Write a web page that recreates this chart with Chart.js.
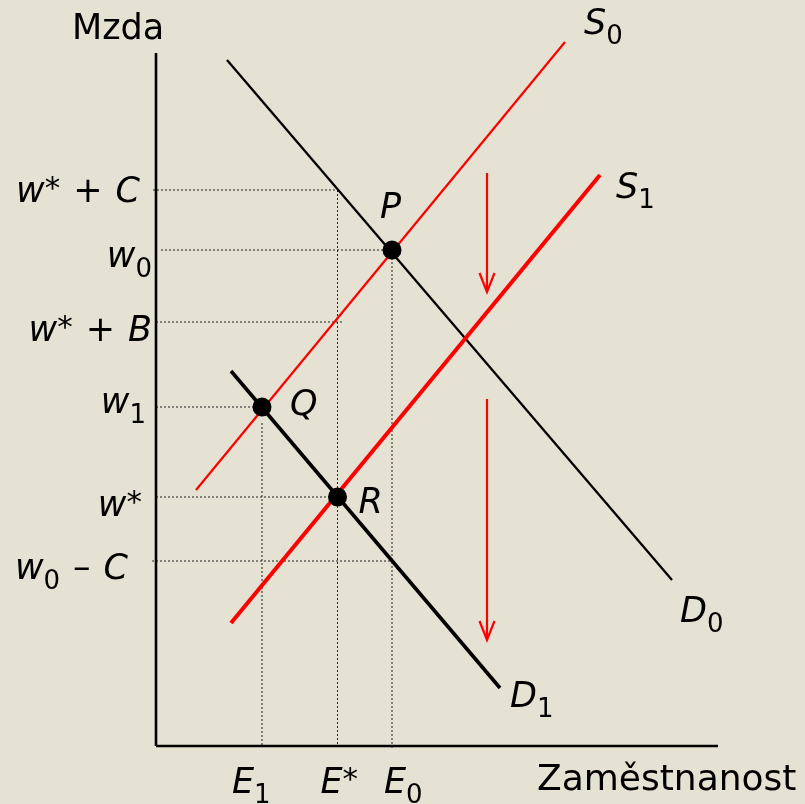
<!DOCTYPE html>
<html><head><meta charset="utf-8">
<script src="https://cdn.jsdelivr.net/npm/chart.js@4"></script>
<style>html,body{margin:0;padding:0;background:#E5E2D3;}canvas{display:block}</style>
</head><body>
<canvas id="c" width="805" height="804"></canvas>
<script>
// ---------- data (economic units) ----------
const xMax = 112.4;               // end of employment axis
const yMax = 138.6;               // end of wage axis
const D0_x = [14.2, 103.2];
const D0_y = [137.2, 33.2];
const S0_x = [8, 81.8];
const S0_y = [51.2, 140.8];
const S1_x = [15, 88.8];
const S1_y = [24.6, 114.2];
const D1_x = [15, 68.8];
const D1_y = [75, 11.6];
const pointNames = ['P', 'Q', 'R'];
const pointX = [47.2, 21.2, 36.3];
const pointY = [99.2, 67.8, 49.8];
const wTickValues = [111.2, 99.2, 84.8, 67.8, 49.8, 37];
const wTickLabels = [
  [['w','i'],['*','sup'],['+','op'],['C','i']],
  [['w','i'],['0','sub']],
  [['w','i'],['*','sup'],['+','op'],['B','i']],
  [['w','i'],['1','sub']],
  [['w','i'],['*','sup']],
  [['w','i'],['0','sub'],['–','op'],['C','i']]
];
const eTickValues = [21.2, 36.3, 47.2];
const eTickLabels = [
  [['E','i'],['1','sub']],
  [['E','i'],['*','sup']],
  [['E','i'],['0','sub']]
];
// dotted guides
const hGuideY = [111.2, 99.2, 84.8, 67.8, 49.8, 37];
const hGuideXStart = [-0.6, 1, 0, 0, 0, -0.8];
const hGuideXEnd = [36.3, 47.2, 37.4, 21.2, 36.3, 47.2];
const vGuideX = [36.3, 47.2, 21.2];
const vGuideYTop = [111.2, 99.2, 64.6];
const vGuideYBottom = [0, -0.8, 0];
// shift arrows (supply shift downwards)
const arrowX = [66.2, 66.2];
const arrowFrom = [114.6, 69.4];
const arrowTo = [90.8, 21.2];
const axisTitleY = 'Mzda';
const axisTitleX = 'Zaměstnanost';

// ---------- helpers ----------
const FAMILY = "'DejaVu Sans', Verdana, sans-serif";
const BG = '#E5E2D3';
function segFont(st) {
  if (st === 'i') return { f: 'italic 35px ' + FAMILY, dy: 0, pad: 0 };
  if (st === 'sub') return { f: '26px ' + FAMILY, dy: 10, pad: 0 };
  if (st === 'sup') return { f: '31px ' + FAMILY, dy: -4, pad: 0 };
  if (st === 'op') return { f: '35px ' + FAMILY, dy: 0, pad: 13 };
  return { f: '35px ' + FAMILY, dy: 0, pad: 0 };
}
function richWidth(ctx, segs) {
  let w = 0;
  segs.forEach(([t, st]) => { const s = segFont(st); ctx.font = s.f; w += ctx.measureText(t).width + 2 * s.pad; });
  return w;
}
function drawRich(ctx, segs, x, y, align) {
  let cx = align === 'right' ? x - richWidth(ctx, segs) : x;
  ctx.textBaseline = 'alphabetic';
  ctx.textAlign = 'left';
  ctx.fillStyle = '#000';
  segs.forEach(([t, st]) => {
    const s = segFont(st);
    ctx.font = s.f;
    cx += s.pad;
    ctx.fillText(t, cx, y + s.dy);
    cx += ctx.measureText(t).width + s.pad;
  });
}
const pts = (xs, ys) => xs.map((x, i) => ({ x, y: ys[i] }));

// ---------- datasets ----------
const datasets = [];
datasets.push({ label: 'points', data: pts(pointX, pointY), showLine: false,
  pointRadius: 9.5, pointHoverRadius: 9.5, backgroundColor: '#000', borderWidth: 0, order: 0 });
datasets.push({ label: 'D1', data: pts(D1_x, D1_y), showLine: true, borderColor: '#000', borderWidth: 3.6, pointRadius: 0, order: 1 });
datasets.push({ label: 'S1', data: pts(S1_x, S1_y), showLine: true, borderColor: '#FF0000', borderWidth: 4, pointRadius: 0, order: 1 });
datasets.push({ label: 'S0', data: pts(S0_x, S0_y), showLine: true, borderColor: '#FF0000', borderWidth: 2.2, pointRadius: 0, order: 1 });
datasets.push({ label: 'D0', data: pts(D0_x, D0_y), showLine: true, borderColor: '#000', borderWidth: 2.3, pointRadius: 0, order: 1 });
datasets.push({ label: 'yaxis', data: [{ x: 0, y: 0 }, { x: 0, y: yMax }], showLine: true, borderColor: '#000', borderWidth: 2.6, pointRadius: 0, order: 1 });
datasets.push({ label: 'xaxis', data: [{ x: 0, y: 0 }, { x: xMax, y: 0 }], showLine: true, borderColor: '#000', borderWidth: 2.6, pointRadius: 0, order: 1 });
hGuideY.forEach((y, i) => datasets.push({ label: 'hg' + i,
  data: [{ x: hGuideXStart[i], y }, { x: hGuideXEnd[i], y }], showLine: true,
  borderColor: '#222', borderWidth: 1, borderDash: [2, 2], pointRadius: 0, order: 2 }));
vGuideX.forEach((x, i) => datasets.push({ label: 'vg' + i,
  data: [{ x, y: vGuideYTop[i] }, { x, y: vGuideYBottom[i] }], showLine: true,
  borderColor: '#222', borderWidth: 1, borderDash: [2, 2], pointRadius: 0, order: 2 }));
datasets.forEach(d => { d.clip = false; });

// ---------- plugins ----------
const bgPlugin = {
  id: 'bg',
  beforeDraw(chart) {
    const { ctx, width, height } = chart;
    ctx.save(); ctx.fillStyle = BG; ctx.fillRect(0, 0, width, height); ctx.restore();
  }
};
const annot = {
  id: 'annot',
  afterDraw(chart) {
    const ctx = chart.ctx, xs = chart.scales.x, ys = chart.scales.y;
    const X = v => xs.getPixelForValue(v), Y = v => ys.getPixelForValue(v);
    ctx.save();
    // arrows
    ctx.strokeStyle = '#FF0000'; ctx.lineWidth = 2.2; ctx.lineCap = 'butt';
    arrowX.forEach((ax, i) => {
      const px = X(ax), y0 = Y(arrowFrom[i]), y1 = Y(arrowTo[i]);
      ctx.beginPath(); ctx.moveTo(px, y0); ctx.lineTo(px, y1 - 2); ctx.stroke();
      ctx.beginPath(); ctx.moveTo(px - 7.5, y1 - 19); ctx.lineTo(px, y1); ctx.lineTo(px + 7.5, y1 - 19); ctx.stroke();
    });
    // wage tick labels
    const wDx = [-16, -4, -4, -10, -14, -28];
    const wDy = [12, 17, 19, 6, 19, 18];
    wTickValues.forEach((v, i) => drawRich(ctx, wTickLabels[i], X(0) + wDx[i], Y(v) + wDy[i], 'right'));
    // employment tick labels
    const eDx = [-30, -17, -8];
    eTickValues.forEach((v, i) => drawRich(ctx, eTickLabels[i], X(v) + eDx[i], Y(0) + 47, 'left'));
    // curve labels
    const curveLabels = [
      [[['S','i'],['0','sub']], S0_x[1], S0_y[1], 19, -8],
      [[['S','i'],['1','sub']], S1_x[1], S1_y[1], 16, 23],
      [[['D','i'],['0','sub']], D0_x[1], D0_y[1], 8, 42],
      [[['D','i'],['1','sub']], D1_x[1], D1_y[1], 10, 19]
    ];
    curveLabels.forEach(([segs, x, y, dx, dy]) => drawRich(ctx, segs, X(x) + dx, Y(y) + dy, 'left'));
    // point labels
    const pDx = [-12, 28, 21], pDy = [-32, 8, 16];
    pointNames.forEach((n, i) => drawRich(ctx, [[n, 'i']], X(pointX[i]) + pDx[i], Y(pointY[i]) + pDy[i], 'left'));
    // axis titles
    drawRich(ctx, [[axisTitleY, 'n']], X(0) - 84, Y(yMax) - 14, 'left');
    ctx.font = '36px ' + FAMILY;
    ctx.fillText(axisTitleX, X(xMax) - 181, Y(0) + 44);
    ctx.restore();
  }
};

new Chart(document.getElementById('c'), {
  type: 'scatter',
  data: { datasets },
  options: {
    responsive: false,
    animation: false,
    events: [],
    layout: { padding: { left: 156, right: 805 - 718, top: 53, bottom: 804 - 746 } },
    plugins: { legend: { display: false }, tooltip: { enabled: false } },
    scales: {
      x: { type: 'linear', min: 0, max: xMax, display: false },
      y: { type: 'linear', min: 0, max: yMax, display: false }
    }
  },
  plugins: [bgPlugin, annot]
});
</script>
</body></html>
